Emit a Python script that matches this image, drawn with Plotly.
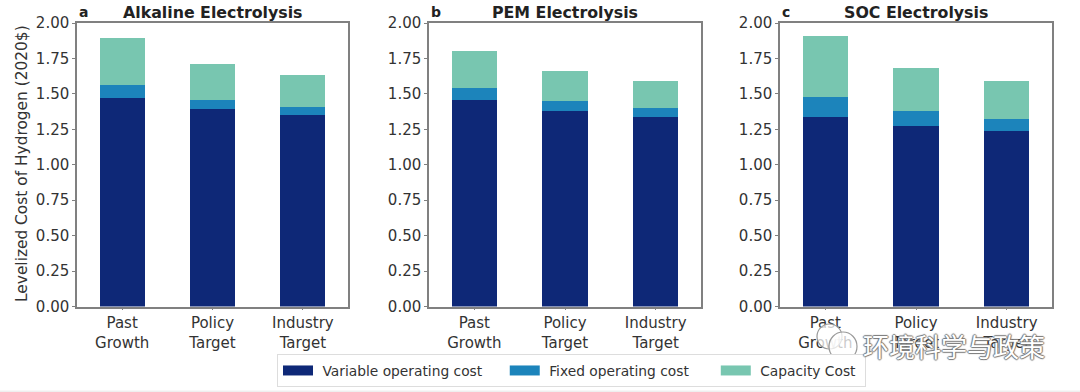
import plotly.graph_objects as go

W, H = 1080, 392
categories = ["Past<br>Growth", "Policy<br>Target", "Industry<br>Target"]
panel_titles = ["Alkaline Electrolysis", "PEM Electrolysis", "SOC Electrolysis"]
panel_letters = ["a", "b", "c"]
series_names = ["Variable operating cost", "Fixed operating cost", "Capacity Cost"]
series_colors = ["#0e2877", "#1c84bb", "#78c6b0"]
variable_cost = [[1.47, 1.39, 1.35], [1.455, 1.38, 1.335], [1.335, 1.27, 1.235]]
fixed_cost = [[0.095, 0.07, 0.06], [0.085, 0.07, 0.065], [0.145, 0.11, 0.09]]
capacity_cost = [[0.33, 0.25, 0.22], [0.265, 0.21, 0.19], [0.425, 0.305, 0.265]]
y_ticks = [0, 0.25, 0.5, 0.75, 1.0, 1.25, 1.5, 1.75, 2.0]
y_label = "Levelized Cost of Hydrogen (2020$)"
watermark = "环境科学与政策"

FONT = "DejaVu Sans"
TXT = "#333333"
AX = "#808080"
NB = "\u00a0"
legend_pad = [4, 5, 1]
x_doms = [(77, 348), (429, 701), (780, 1052)]
y_top, y_bot = 23, 306.5

fig = go.Figure()
for p in range(3):
    xa = "x" if p == 0 else f"x{p+1}"
    ya = "y" if p == 0 else f"y{p+1}"
    for name, color, vals in zip(series_names, series_colors, (variable_cost, fixed_cost, capacity_cost)):
        fig.add_trace(go.Bar(x=list(range(3)), y=vals[p], name=name, width=0.5,
                             marker=dict(color=color, line_width=0),
                             xaxis=xa, yaxis=ya, showlegend=False))
    lk = "xaxis" if p == 0 else f"xaxis{p+1}"
    yk = "yaxis" if p == 0 else f"yaxis{p+1}"
    fig.layout[lk] = dict(domain=[x_doms[p][0] / W, x_doms[p][1] / W], range=[-0.5, 2.5], anchor=ya,
                          tickvals=list(range(3)), ticktext=categories,
                          tickfont=dict(family=FONT, size=15, color=TXT),
                          ticks="outside", ticklen=2, tickcolor=AX,
                          showline=True, mirror=True, linecolor=AX, linewidth=1.5,
                          showgrid=False, zeroline=False)
    fig.layout[yk] = dict(domain=[1 - y_bot / H, 1 - y_top / H], range=[0, 2], anchor=xa,
                          tickvals=y_ticks, tickformat=".2f",
                          tickfont=dict(family=FONT, size=15, color=TXT),
                          ticks="outside", ticklen=3, tickcolor=AX,
                          showline=True, mirror=True, linecolor=AX, linewidth=1.5,
                          showgrid=False, zeroline=False)
    cx = (x_doms[p][0] + x_doms[p][1]) / 2
    fig.add_annotation(x=cx / W, y=1 - 12 / H, xref="paper", yref="paper", text=f"<b>{panel_titles[p]}</b>",
                       showarrow=False, xanchor="center", yanchor="middle",
                       font=dict(family=FONT, size=15.8, color="#222222"))
    fig.add_annotation(x=x_doms[p][0] / W, y=1 - 12 / H, xref="paper", yref="paper", text=f"<b>{panel_letters[p]}</b>",
                       showarrow=False, xanchor="left", yanchor="middle",
                       font=dict(family=FONT, size=14, color="#222222"))

for name, color, pad in zip(series_names, series_colors, legend_pad):
    fig.add_trace(go.Scatter(x=[None], y=[None], mode="lines", name=NB + name + NB * pad,
                             line=dict(color=color, width=14), showlegend=True))

fig.add_annotation(x=22 / W, y=1 - 164 / H, xref="paper", yref="paper", text=y_label, textangle=-90,
                   showarrow=False, xanchor="center", yanchor="middle",
                   font=dict(family=FONT, size=15.4, color=TXT))
fig.add_annotation(x=954 / W, y=1 - 345 / H, xref="paper", yref="paper", text=watermark,
                   showarrow=False, xanchor="center", yanchor="middle",
                   font=dict(family="Noto Sans CJK SC", size=26, color="#ffffff",
                             shadow="1px 0 1px #777, -1px 0 1px #777, 0 1px 1px #777, 0 -1px 1px #777"))

icon_circles = [(817, 324, 842, 349), (829, 332, 857, 361)]
shapes = [dict(type="circle", xref="paper", yref="paper", x0=a / W, x1=c / W, y0=1 - d / H, y1=1 - b / H,
               fillcolor="rgba(255,255,255,0.75)", line=dict(color="#999999", width=1.2), layer="above")
          for a, b, c, d in icon_circles]
shapes.append(dict(type="rect", xref="paper", yref="paper", x0=0, x1=1, y0=0, y1=1.5 / H,
                   fillcolor="#efefef", line_width=0))

fig.update_layout(
    width=W, height=H, barmode="stack", paper_bgcolor="white", plot_bgcolor="white",
    margin=dict(l=0, r=0, t=0, b=0, autoexpand=False), autosize=False,
    legend=dict(orientation="h", x=277 / W, y=1 - 354 / H, xanchor="left", yanchor="top",
                font=dict(family=FONT, size=13.8, color=TXT), traceorder="normal", itemwidth=30,
                bordercolor="#dddddd", borderwidth=1, bgcolor="white"),
    shapes=shapes,
)
fig.write_html("out.html", config={"displayModeBar": False},
               post_script="document.body.style.margin='0';window.dispatchEvent(new Event('resize'));")
